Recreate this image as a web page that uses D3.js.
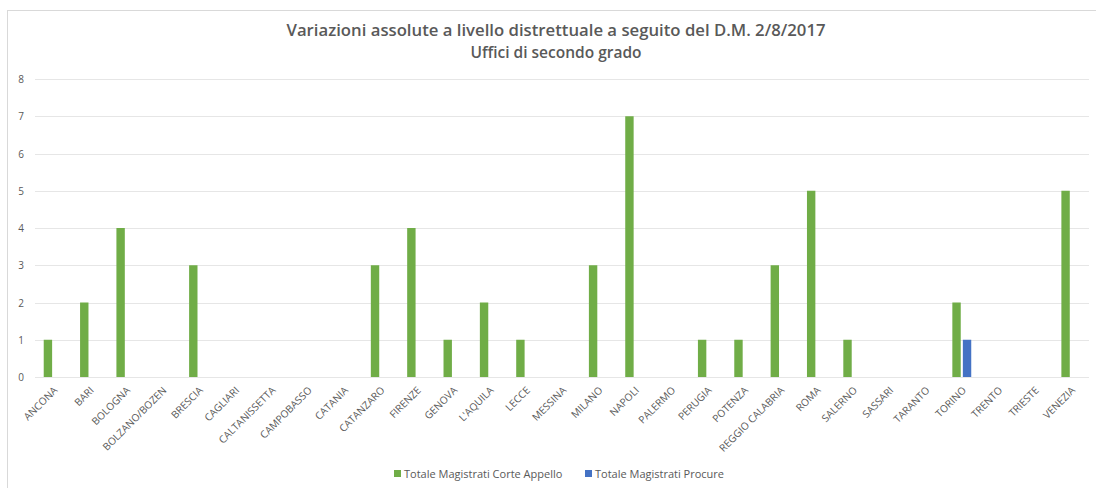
<!DOCTYPE html>
<html><head><meta charset="utf-8">
<script src="https://cdn.jsdelivr.net/npm/d3@7"></script>
<style>
html,body{margin:0;padding:0;background:#fff;}
svg{display:block;font-family:"Open Sans","Noto Sans",sans-serif;}
</style></head>
<body>
<svg id="chart" width="1096" height="488"></svg>
<script>
const categories = ["ANCONA","BARI","BOLOGNA","BOLZANO/BOZEN","BRESCIA","CAGLIARI","CALTANISSETTA","CAMPOBASSO","CATANIA","CATANZARO","FIRENZE","GENOVA","L'AQUILA","LECCE","MESSINA","MILANO","NAPOLI","PALERMO","PERUGIA","POTENZA","REGGIO CALABRIA","ROMA","SALERNO","SASSARI","TARANTO","TORINO","TRENTO","TRIESTE","VENEZIA"];
const corteAppello = [1,2,4,0,3,0,0,0,0,3,4,1,2,1,0,3,7,0,1,1,3,5,1,0,0,2,0,0,5];
const procure      = [0,0,0,0,0,0,0,0,0,0,0,0,0,0,0,0,0,0,0,0,0,0,0,0,0,1,0,0,0];
const seriesNames  = ["Totale Magistrati Corte Appello","Totale Magistrati Procure"];
const yTicks = [0,1,2,3,4,5,6,7,8];
const titleLines = ["Variazioni assolute a livello distrettuale a seguito del D.M. 2/8/2017","Uffici di secondo grado"];

(function(){
const colors = ["#70AD47","#4472C4"];
const svg = d3.select("#chart");

// chart frame
svg.append("rect").attr("x",7.5).attr("y",10.5).attr("width",1100).attr("height",500)
  .attr("fill","none").attr("stroke","#D9D9D9").attr("stroke-width",1);

const pL = 35, pR = 1089, pT = 79, pB = 377;
const x0 = d3.scaleBand().domain(categories).range([pL,pR]).paddingInner(0.48).paddingOuter(0.24);
const x1 = d3.scaleBand().domain([0,1]).range([0,x0.bandwidth()]).paddingInner(0.2);
const y = d3.scaleLinear().domain([0,8]).range([pB,pT]);

// gridlines
svg.append("g").selectAll("line").data(yTicks).join("line")
  .attr("x1",pL).attr("x2",pR)
  .attr("y1",d=>Math.round(y(d))+0.5).attr("y2",d=>Math.round(y(d))+0.5)
  .attr("stroke","#E6E6E6").attr("stroke-width",1);

// y labels
svg.append("g").selectAll("text").data(yTicks).join("text")
  .attr("x",21).attr("y",d=>y(d)+4).attr("text-anchor","middle")
  .attr("font-size",10).attr("fill","#595959").text(d=>d);

// bars
const data = [corteAppello, procure];
data.forEach((vals,si)=>{
  svg.append("g").selectAll("rect").data(vals.map((v,i)=>({v,c:categories[i]})).filter(d=>d.v>0)).join("rect")
    .attr("x",d=>x0(d.c)+x1(si)).attr("width",x1.bandwidth())
    .attr("y",d=>y(d.v)).attr("height",d=>y(0)-y(d.v))
    .attr("fill",colors[si]);
});

// x labels
svg.append("g").selectAll("text").data(categories).join("text")
  .attr("transform",d=>`translate(${x0(d)+x0.bandwidth()/2+5},${pB+14}) rotate(-45)`)
  .attr("text-anchor","end").attr("font-size",10.2).attr("fill","#595959").text(d=>d);

// title
titleLines.forEach((t,i)=>{
  const tx = svg.append("text").attr("x",556).attr("y",36+i*22).attr("text-anchor","middle")
    .attr("font-size",15.5).attr("font-weight",600).attr("fill","#595959")
    .text(t);
  if(i===0) tx.attr("textLength",539).attr("lengthAdjust","spacingAndGlyphs");
});

// legend
const legX = [394,585];
seriesNames.forEach((n,i)=>{
  svg.append("rect").attr("x",legX[i]).attr("y",470).attr("width",7).attr("height",7).attr("fill",colors[i]);
  svg.append("text").attr("x",legX[i]+10).attr("y",478).attr("font-size",11).attr("fill","#595959").text(n);
});
})();
</script>
</body></html>
